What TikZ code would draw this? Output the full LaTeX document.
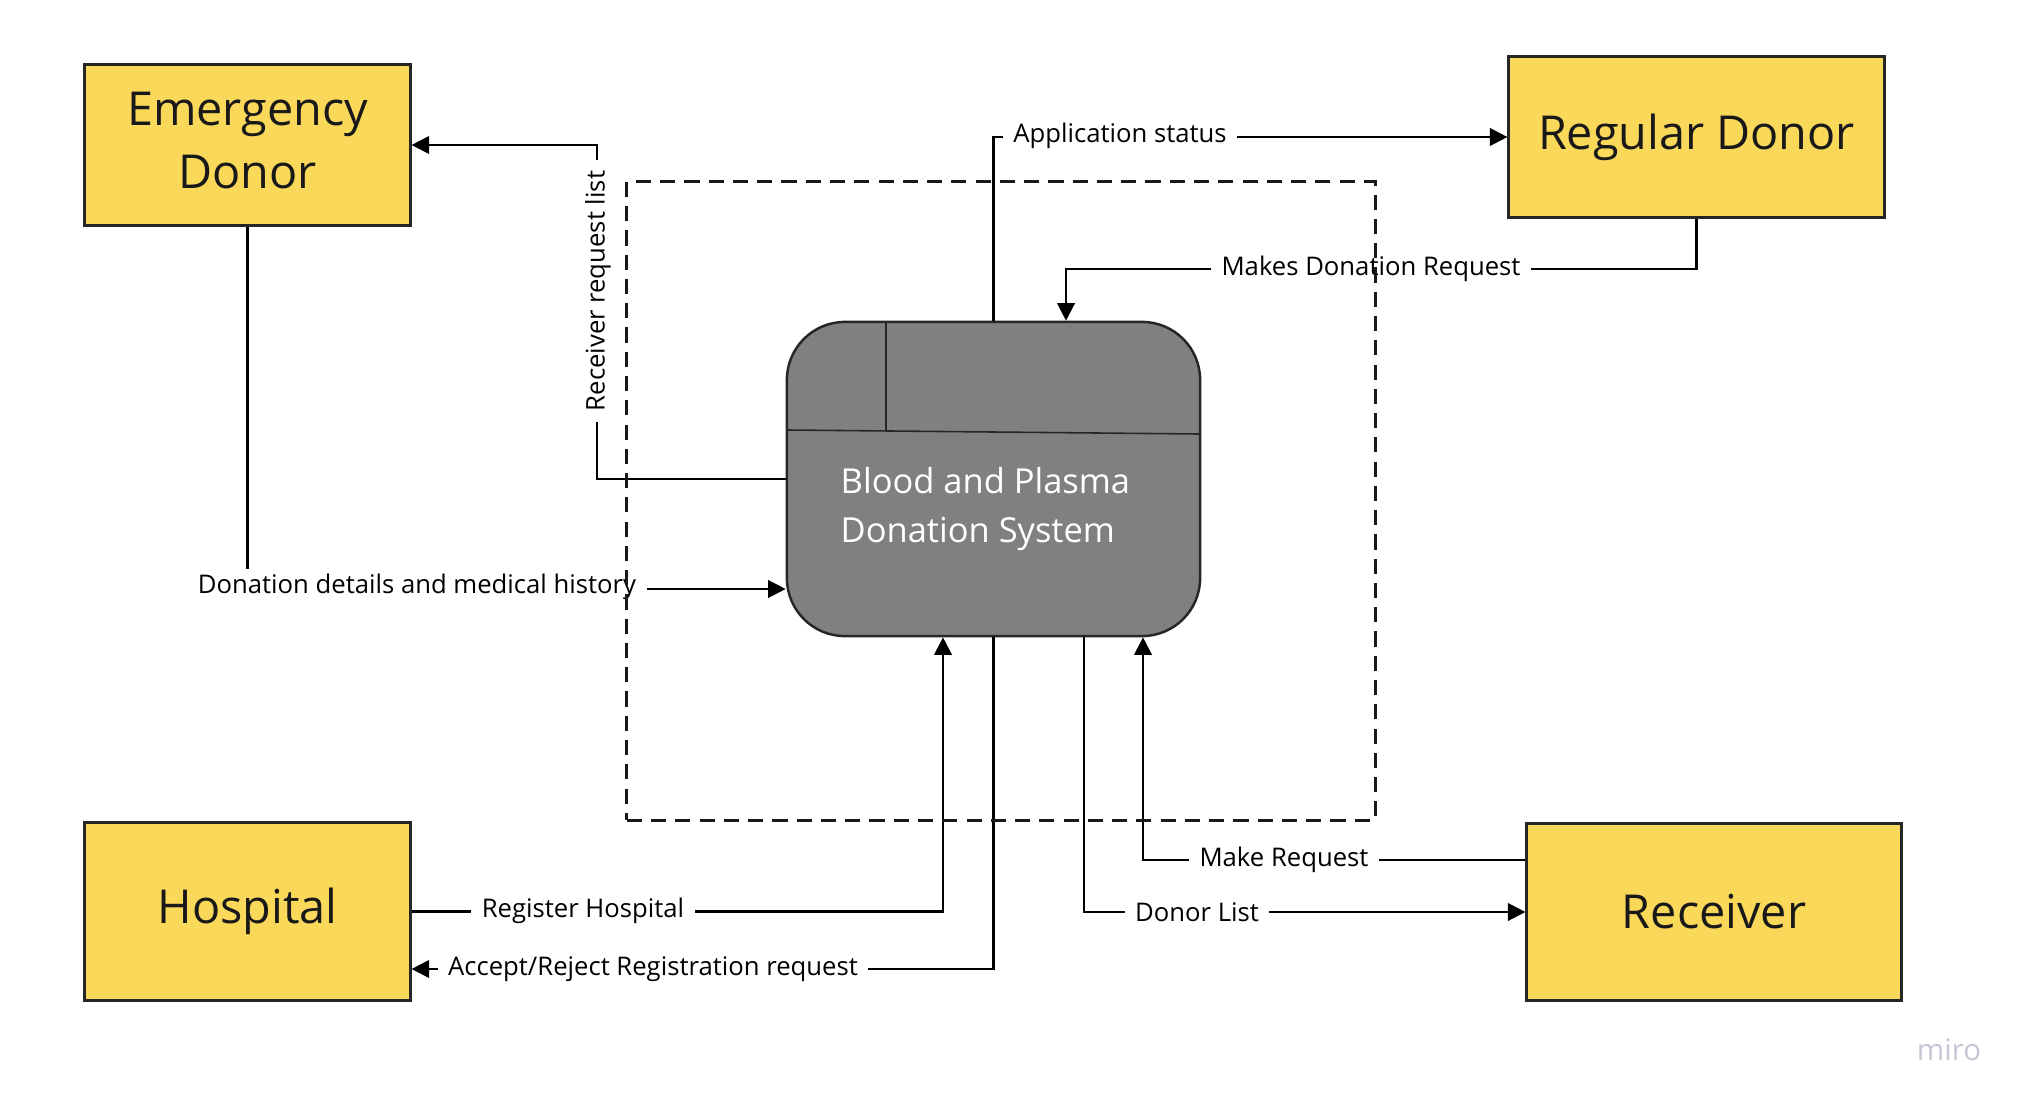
\documentclass[tikz,border=0pt]{standalone}
\usepackage{fontspec}
\setmainfont{Open Sans}
\usetikzlibrary{arrows.meta}
\definecolor{boxyellow}{RGB}{250,216,90}
\definecolor{sysgray}{RGB}{128,128,128}
\definecolor{mirogray}{RGB}{196,200,212}
\begin{document}
\begin{tikzpicture}[x=0.01cm,y=-0.01cm,
  entity/.style={draw=black!85, line width=0.85pt, fill=boxyellow, align=center,
    text=black!90, inner sep=0pt, font=\fontsize{13.3}{18}\selectfont},
  sysbox/.style={draw=black!85, line width=0.7pt, fill=sysgray, rounded corners=0.58cm,
    minimum width=4.13cm, minimum height=3.14cm, inner sep=0pt},
  conn/.style={line width=0.65pt, draw=black},
  arr/.style={conn, -{Triangle[length=5pt,width=5pt]}},
  lbl/.style={fill=white, inner xsep=3pt, inner ysep=1.5pt, font=\fontsize{7.3}{9}\selectfont},
  boundary/.style={draw=black!90, line width=0.9pt, dash pattern=on 4.3pt off 2.6pt,
    minimum width=7.48cm, minimum height=6.38cm, inner sep=0pt}
]
\useasboundingbox[fill=white] (0,0) rectangle (2028,1109);

% entities
\node[entity, minimum width=3.25cm, minimum height=1.6cm,
  label={[align=center, text=black!90, font=\fontsize{13.3}{18}\selectfont, yshift=1.2pt]center:Emergency\\Donor}] (ed) at (247.5,145) {};
\node[entity, minimum width=3.75cm, minimum height=1.6cm] (rd) at (1696.5,137) {Regular Donor};
\node[entity, minimum width=3.25cm, minimum height=1.77cm] (h) at (247.5,911.5) {Hospital};
\node[entity, minimum width=3.74cm, minimum height=1.76cm] (rc) at (1714,912) {Receiver};

% system process
\node[sysbox] (sys) at (993.5,479) {};
\draw[line width=0.45pt, black!85] (886,322) -- (886,430);
\draw[line width=0.45pt, black!85] (788,430) -- (1199,434);
\node[anchor=west, align=left, text=white, inner sep=0pt,
  font=\fontsize{9.8}{13.9}\selectfont] (systext) at (840,509) {Blood and Plasma\\Donation System};

% helper coordinates
\coordinate (c586) at (0,589);
\coordinate (m1) at (1066,269);
\coordinate (rh) at (943,911);
\coordinate (ar) at (0,969);
\coordinate (dl) at (1084,0);
\coordinate (mr) at (1143,860);

% connectors
\draw[arr] (sys.west) -- ++(-189,0) |- (ed.east);
\node[lbl, rotate=90] (l1) at (598,291) {Receiver request list};

\draw[arr] (ed.south) |- (sys.west |- c586);
\node[lbl] (l2) at (417,587) {Donation details and medical history};

\draw[arr] (sys.north) |- (rd.west);
\node[lbl] (l3) at (1120,136) {Application status};

\draw[arr] (rd.south) |- (m1) -- (m1 |- sys.north);
\node[lbl] (l4) at (1371,269) {Makes Donation Request};

\draw[arr] (h.east) -| (sys.south -| rh);
\node[lbl] (l5) at (583,911) {Register Hospital};

\draw[arr] (sys.south) |- (h.east |- ar);
\node[lbl] (l6) at (653,969) {Accept/Reject Registration request};

\draw[arr] (sys.south -| dl) |- (rc.west);
\node[lbl] (l7) at (1197,912) {Donor List};

\draw[arr] (rc.west |- mr) -| (sys.south -| mr);
\node[lbl] (l8) at (1284,860) {Make Request};

% system boundary
\node[boundary] (bound) at (1001,501) {};

% watermark
\node[text=mirogray, font=\fontsize{8.4}{10}\selectfont, inner sep=0pt] (miro) at (1949,1050) {miro};
\end{tikzpicture}
\end{document}
